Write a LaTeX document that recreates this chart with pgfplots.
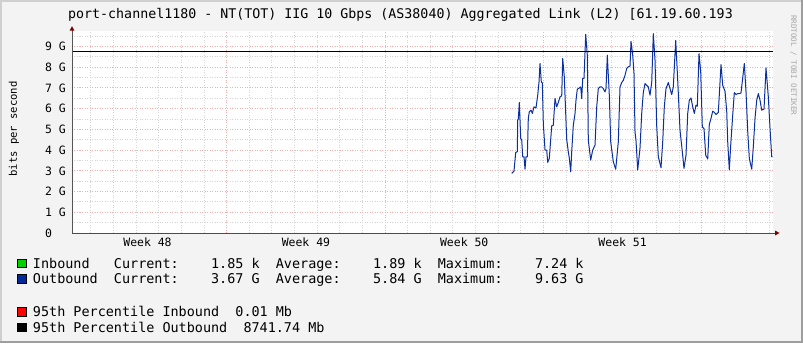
\documentclass[border=0pt]{standalone}
\usepackage{pgfplots}
\pgfplotsset{compat=1.18}
\usepackage{pgfplotstable}
\usepackage{fontspec}
\setmainfont{DejaVu Sans Mono}
\definecolor{bgc}{HTML}{F3F3F3}
\definecolor{bordl}{HTML}{CFCFCF}
\definecolor{bordd}{HTML}{9E9E9E}
\definecolor{mgrid}{HTML}{F0B0B0}
\definecolor{ngrid}{HTML}{D4D4D4}
\definecolor{outb}{HTML}{0A2FA0}
\definecolor{inb}{HTML}{00CF00}
\definecolor{outsq}{HTML}{002A97}
\definecolor{arrowc}{HTML}{7F0000}
\definecolor{axisc}{HTML}{555555}
\definecolor{rrdt}{HTML}{A8A8A8}
\pgfplotstableread{
x y
439.7 2.88
442 2.99
443.7 3.89
445.3 3.92
445.7 5.45
446.3 5.5
447.3 6.30
448.7 4.56
449.7 4.50
450.7 3.68
452 3.68
453 3.08
454 3.68
455.3 3.68
456.3 5.53
457.3 5.85
459 5.93
460.3 5.77
462 6.09
464 6.04
465.7 6.65
467 7.29
468 8.18
469.3 7.29
470.3 7.25
471.3 5.29
473 4.0
474.7 4.0
475.7 3.41
477.3 3.6
479.7 5.17
481.3 5.2
483 6.49
484.7 6.09
486.3 6.3
488 6.57
489.7 6.62
490.7 8.42
492.3 7.53
494.7 4.52
496.3 3.92
497.3 3.62
498.7 2.95
499.7 3.92
501.3 5.2
503 5.77
504 6.41
505.3 6.94
507.3 7.0
508.7 7.05
509.7 6.49
510.7 7.46
512 7.46
513.7 9.59
515.3 8.58
516.3 4.48
518.7 3.52
520.7 4.0
523 4.24
524.7 6.09
526.3 6.97
528 7.05
529.7 7.05
531.3 6.97
533 6.81
534 6.97
535.3 8.58
537.3 6.65
538.7 4.40
541.3 3.44
543.7 3.08
546.3 4.40
548 7.05
549.7 7.26
551.3 7.37
553 7.61
554.7 7.94
556.3 8.02
558 8.06
559 9.25
560.7 8.58
562 7.70
563 4.88
564 4.45
565.7 3.04
568 4.1
569.7 5.77
571.3 6.78
573 7.21
574.7 7.13
576.3 7.05
578 6.65
579.7 7.26
581.3 9.62
583 8.34
584.7 5.17
586.3 3.68
589 3.15
590.7 4.40
592.3 6.09
594 6.97
596.3 7.26
598 6.97
599.7 6.68
601.3 7.05
603.7 9.30
605.7 7.37
608 4.96
610.3 3.92
612 3.12
614 3.76
615.7 5.77
617.3 6.41
619 6.52
620.7 6.09
622.3 5.77
624 6.17
625.3 6.12
627 8.66
628.7 7.77
630.3 5.12
632 5.04
633.7 3.76
635.7 3.57
637.3 5.24
639 5.53
640.7 5.88
642.3 5.82
644 5.72
646.3 5.82
649 8.13
650.7 7.13
653 6.84
654.7 5.88
655.7 4.40
657.3 3.04
658.7 4.24
660.7 5.69
662.3 6.78
664 6.68
665.7 6.73
667.3 6.73
669 6.76
672.3 8.18
674 6.81
675.7 4.92
677.3 3.60
679.7 3.08
681.3 4.16
683 5.53
684.7 6.41
686.3 6.73
688 6.41
689.7 5.93
692 5.98
694 7.97
696.3 6.57
698 5.05
699.7 3.68
700.5 3.67
}\outdata
\begin{document}
\begin{tikzpicture}[x=1bp,y=1bp]
\begin{scope}[shift={(-72bp,-110bp)}]
\fill[bgc] (0,0) rectangle (803,343);
\fill[bordl] (0,0) rectangle (2,343);
\fill[bordl] (0,341) rectangle (803,343);
\fill[bordd] (801,0) rectangle (803,343);
\fill[bordd] (0,0) rectangle (803,2);
\end{scope}
\begin{axis}[
  anchor=south west,
  scale only axis, width=701bp, height=202bp,
  xmin=0, xmax=701, ymin=0, ymax=9.75,
  axis background/.style={fill=white},
  axis line style={draw=none},
  tick style={draw=none},
  xtick={154.7,313.04,471.38,629.72},
  xticklabels={},
  minor xtick={18.98,41.60,64.22,86.84,109.46,132.08,177.32,199.94,222.56,245.18,267.80,290.42,335.66,358.28,380.90,403.52,426.14,448.76,494.00,516.62,539.24,561.86,584.48,607.10,652.34,674.96,697.58},
  extra x ticks={75.5,233.9,392.2,550.6},
  extra x tick labels={Week 48,Week 49,Week 50,Week 51},
  extra x tick style={grid=none},
  ytick={0,1,2,3,4,5,6,7,8,9},
  yticklabels={0\hphantom{~G},1~G,2~G,3~G,4~G,5~G,6~G,7~G,8~G,9~G},
  minor ytick={0.5,1.5,2.5,3.5,4.5,5.5,6.5,7.5,8.5,9.5},
  grid=both,
  major grid style={mgrid, line width=1bp, dash pattern=on 1bp off 1.5bp},
  minor grid style={ngrid, line width=1bp, dash pattern=on 1bp off 1.5bp},
  tick label style={font=\fontsize{11.5}{13}\selectfont, inner sep=0pt},
  xticklabel style={anchor=base, yshift=-13.7bp},
  yticklabel style={anchor=east, xshift=-6bp},
  clip=false,
]
\addplot[outb, line width=1bp, line join=round] table {\outdata};
\addplot[black, line width=1bp] coordinates {(0,8.74174) (701,8.74174)};
\addplot[red, line width=1bp] coordinates {(0,0.00001) (703,0.00001)};
\end{axis}
\begin{scope}[shift={(-72bp,-110bp)}]
\draw[axisc, line width=1bp] (72,110) -- (72,313);
\fill[arrowc] (69.5,312.3) -- (74.5,312.3) -- (72,316.8) -- cycle;
\fill[arrowc] (775,107.5) -- (775,112.5) -- (779.5,110) -- cycle;
\node[anchor=base west, inner sep=0pt, font=\fontsize{13.35}{16}\selectfont] at (68,324.7) {port-channel1180 - NT(TOT) IIG 10 Gbps (AS38040) Aggregated Link (L2) [61.19.60.193};
\node[rotate=90, anchor=base, inner sep=0pt, font=\fontsize{10.6}{12}\selectfont] at (17,214) {bits per second};
\node[rotate=-90, anchor=base west, inner sep=0pt, text=rrdt, font=\fontsize{7.6}{9}\selectfont] at (791,328) {RRDTOOL / TOBI OETIKER};
\begin{scope}[font=\fontsize{13.5}{16}\selectfont]
\filldraw[fill=inb, draw=black, line width=0.8bp] (17.8,343-267.8) rectangle (26.8,343-259.3);
\filldraw[fill=outsq, draw=black, line width=0.8bp] (17.8,343-283) rectangle (26.8,343-274.5);
\filldraw[fill=red, draw=black, line width=0.8bp] (17.8,343-316.2) rectangle (26.8,343-307.7);
\filldraw[fill=black, draw=black, line width=0.8bp] (17.8,343-331.5) rectangle (26.8,343-323);
\node[anchor=base west, inner sep=0pt] at (32.8,343-268.3) {Inbound~~~Current:~~~~1.85~k~~Average:~~~~1.89~k~~Maximum:~~~~7.24~k};
\node[anchor=base west, inner sep=0pt] at (32.8,343-283.5) {Outbound~~Current:~~~~3.67~G~~Average:~~~~5.84~G~~Maximum:~~~~9.63~G};
\node[anchor=base west, inner sep=0pt] at (32.8,343-316.7) {95th~Percentile~Inbound~~0.01~Mb};
\node[anchor=base west, inner sep=0pt] at (32.8,343-332) {95th~Percentile~Outbound~~8741.74~Mb};
\end{scope}
\end{scope}
\end{tikzpicture}
\end{document}
